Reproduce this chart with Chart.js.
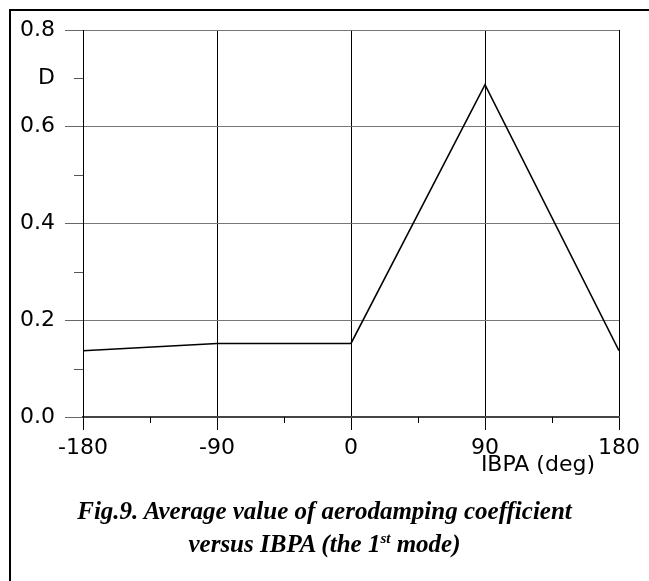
<!DOCTYPE html>
<html>
<head>
<meta charset="utf-8">
<script src="https://cdn.jsdelivr.net/npm/chart.js@4"></script>
<style>
  html, body { margin: 0; padding: 0; background: #fff; overflow: hidden; }
  #wrap { position: relative; width: 649px; height: 581px; }
  #frame { position: absolute; left: 9px; top: 9px; width: 700px; height: 700px;
           border-left: 2px solid #000; border-top: 2px solid #000; box-sizing: border-box; }
  canvas { position: absolute; left: 0; top: 0; }
  .xt { position: absolute; font-family: "DejaVu Sans", sans-serif; font-size: 22px; color: #000;
        right: 54px; top: 452px; white-space: nowrap; line-height: 1.1; }
  .cap { position: absolute; left: 0; width: 649px; text-align: center; line-height: 1;
         font-family: "Liberation Serif", "Times New Roman", serif; font-weight: bold; font-style: italic;
         font-size: 25px; color: #000; white-space: nowrap; }
  .cap sup { font-size: 15px; vertical-align: 9px; line-height: 0; }
</style>
</head>
<body>
<div id="wrap">
  <div id="frame"></div>
  <canvas id="c" width="649" height="581"></canvas>
  <div class="xt">IBPA (deg)</div>
  <div class="cap" style="top:498px;">Fig.9. Average value of aerodamping coefficient</div>
  <div class="cap" style="top:531px;">versus IBPA (the 1<sup>st</sup> mode)</div>
</div>
<script>
// Data
const ibpa = [-180, -90, 0, 90, 180];
const damping = [0.137, 0.152, 0.152, 0.687, 0.137];
const xMajorTicks = [-180, -90, 0, 90, 180];
const yMajorTicks = [0.0, 0.2, 0.4, 0.6, 0.8];
const yAxisLabel = 'D';
const yAxisLabelAt = 0.7;

const isMajorX = v => xMajorTicks.some(t => Math.abs(t - v) < 1e-6);
const isMajorY = v => yMajorTicks.some(t => Math.abs(t - v) < 1e-6);

const minorTicks = {
  id: 'minorTicks',
  afterDraw(chart) {
    const ctx = chart.ctx;
    const xs = chart.scales.x, ys = chart.scales.y;
    ctx.save();
    ctx.lineWidth = 1;
    ctx.strokeStyle = '#000';
    xs.ticks.forEach(t => {
      if (!isMajorX(t.value)) {
        const px = Math.round(xs.getPixelForValue(t.value)) + 0.5;
        ctx.beginPath();
        ctx.moveTo(px, ys.bottom);
        ctx.lineTo(px, ys.bottom + 6);
        ctx.stroke();
      }
    });
    ctx.strokeStyle = '#555';
    ys.ticks.forEach(t => {
      if (!isMajorY(t.value)) {
        const py = Math.round(ys.getPixelForValue(t.value)) + 0.5;
        ctx.beginPath();
        ctx.moveTo(xs.left - 9, py);
        ctx.lineTo(xs.left, py);
        ctx.stroke();
      }
    });
    ctx.restore();
  }
};

new Chart(document.getElementById('c'), {
  type: 'line',
  data: {
    datasets: [{
      data: ibpa.map((x, i) => ({ x, y: damping[i] })),
      borderColor: '#000',
      borderWidth: 1.6,
      pointRadius: 0,
      tension: 0,
      fill: false
    }]
  },
  options: {
    responsive: false,
    animation: false,
    layout: { padding: { top: 30, right: 30, left: 0, bottom: 0 } },
    plugins: { legend: { display: false }, tooltip: { enabled: false }, title: { display: false } },
    scales: {
      x: {
        type: 'linear',
        min: -180, max: 180,
        afterFit: s => { s.height = 164; },
        ticks: {
          stepSize: 45,
          autoSkip: false,
          maxRotation: 0,
          padding: 5,
          color: '#000',
          font: { family: 'DejaVu Sans', size: 22 },
          callback: v => isMajorX(v) ? String(v) : ''
        },
        grid: {
          color: c => isMajorX(c.tick.value) ? '#000' : 'rgba(0,0,0,0)',
          tickColor: c => isMajorX(c.tick.value) ? '#000' : 'rgba(0,0,0,0)',
          lineWidth: 1,
          tickLength: 13
        },
        border: { display: true, color: '#444', width: 2 }
      },
      y: {
        type: 'linear',
        min: 0, max: 0.8,
        afterFit: s => { s.width = 83; },
        ticks: {
          stepSize: 0.1,
          autoSkip: false,
          padding: 10,
          color: '#000',
          font: { family: 'DejaVu Sans', size: 22 },
          callback: v => {
            if (Math.abs(v - yAxisLabelAt) < 1e-6) return yAxisLabel;
            return isMajorY(v) ? v.toFixed(1) : '';
          }
        },
        grid: {
          color: c => isMajorY(c.tick.value) ? '#777' : 'rgba(0,0,0,0)',
          tickColor: c => isMajorY(c.tick.value) ? '#666' : 'rgba(0,0,0,0)',
          lineWidth: 1,
          tickLength: 18
        },
        border: { display: true, color: '#000', width: 1 }
      }
    }
  },
  plugins: [minorTicks]
});
</script>
</body>
</html>
